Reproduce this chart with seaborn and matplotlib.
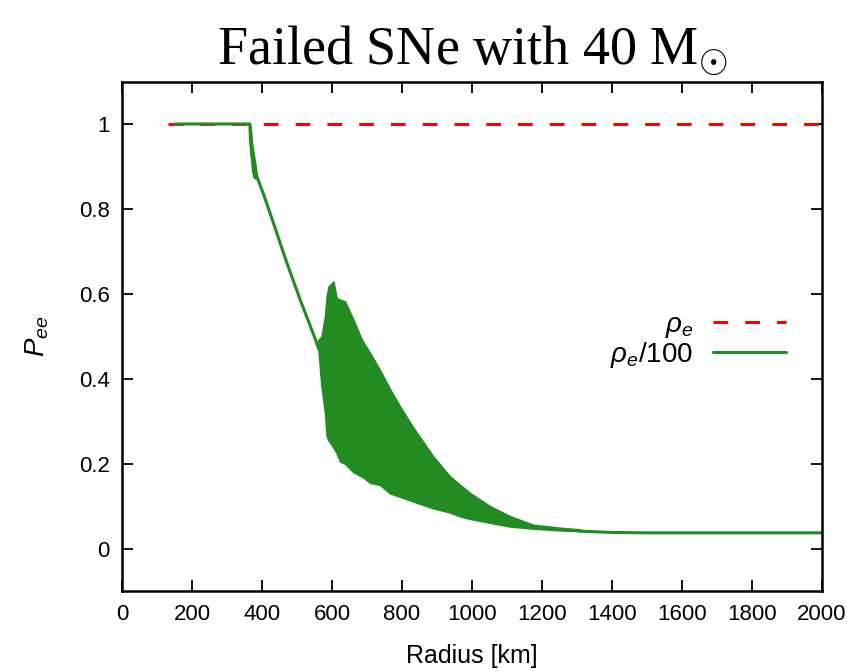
import matplotlib
matplotlib.use("Agg")
import matplotlib.pyplot as plt
import seaborn as sns
import pandas as pd

# Survival probability P_ee versus radius for a failed SN (40 solar masses)
radius_full = [131, 2000]
pee_full = [1.0, 1.0]

# smooth parts of the rho_e/100 curve
radius_trend = [151, 365, 368, 372, 376, 380, 385, 404, 428, 470, 509, 551, 562]
pee_trend = [1.0, 1.0, 0.95, 0.92, 0.90, 0.885, 0.877, 0.835, 0.778, 0.675, 0.586, 0.496, 0.47]
radius_tail = [1309, 1400, 1500, 2000]
pee_tail = [0.041, 0.038, 0.037, 0.037]

# fast oscillation right after the first drop
radius_dip = [365, 368, 372, 376, 380, 385]
dip_hi = [1.0, 0.985, 0.95, 0.93, 0.91, 0.88]
dip_lo = [1.0, 0.93, 0.89, 0.875, 0.872, 0.872]

# envelope of the strongly oscillating region
radius_band = [560, 570, 580, 585, 590, 604, 613, 623, 637, 661, 685, 709, 737,
               766, 794, 832, 889, 937, 966, 994, 1051, 1109, 1175, 1251, 1309]
band_hi = [0.49, 0.50, 0.547, 0.594, 0.617, 0.629, 0.59, 0.586, 0.582, 0.539, 0.492,
           0.46, 0.42, 0.375, 0.335, 0.285, 0.217, 0.17, 0.15, 0.131, 0.10, 0.076,
           0.056, 0.049, 0.045]
band_lo = [0.48, 0.382, 0.32, 0.264, 0.255, 0.238, 0.225, 0.205, 0.20, 0.18, 0.17,
           0.155, 0.15, 0.13, 0.122, 0.111, 0.095, 0.085, 0.076, 0.07, 0.061, 0.052,
           0.047, 0.043, 0.041]

x_ticks = [0, 200, 400, 600, 800, 1000, 1200, 1400, 1600, 1800, 2000]
y_ticks = [0, 0.2, 0.4, 0.6, 0.8, 1.0]
y_ticklabels = ["0", "0.2", "0.4", "0.6", "0.8", "1"]

RED = "#ff0000"
GREEN = "#228b22"

sns.set_style("white")
plt.rcParams["font.family"] = ["Liberation Sans", "DejaVu Sans"]
plt.rcParams["mathtext.fontset"] = "custom"
plt.rcParams["mathtext.it"] = "Liberation Sans:italic"
plt.rcParams["mathtext.rm"] = "Liberation Sans"
plt.rcParams["text.color"] = "black"
plt.rcParams["axes.labelcolor"] = "black"
plt.rcParams["xtick.color"] = "black"
plt.rcParams["ytick.color"] = "black"

fig = plt.figure(figsize=(8.63, 6.71), dpi=100)
ax = fig.add_axes([0.1414, 0.1192, 0.8111, 0.7593])

df_full = pd.DataFrame({"r": radius_full, "p": pee_full})
sns.lineplot(data=df_full, x="r", y="p", ax=ax, color=RED, lw=2.2,
             label=r"$\rho_e$")
ax.lines[-1].set_dashes([4.8, 5.6])

trend = pd.DataFrame({"r": radius_trend, "p": pee_trend})
tail = pd.DataFrame({"r": radius_tail, "p": pee_tail})
sns.lineplot(data=trend, x="r", y="p", ax=ax, color=GREEN, lw=2.2,
             label=r"$\rho_e$/100")
sns.lineplot(data=tail, x="r", y="p", ax=ax, color=GREEN, lw=2.2, legend=False)

ax.fill_between(radius_dip, dip_lo, dip_hi, color=GREEN, lw=1.2, edgecolor=GREEN)
ax.fill_between(radius_band, band_lo, band_hi, color=GREEN, lw=1.2, edgecolor=GREEN)

ax.set_xlim(0, 2000)
ax.set_ylim(-0.1, 1.1)
ax.set_xticks(x_ticks)
ax.set_yticks(y_ticks)
ax.set_yticklabels(y_ticklabels)
ax.tick_params(direction="in", length=8, width=1.3, labelsize=16,
               top=True, right=True, bottom=True, left=True, pad=9)
for s in ax.spines.values():
    s.set_linewidth(1.8)
    s.set_color("black")

ax.set_xlabel("Radius [km]", fontsize=18, labelpad=14)
ax.set_ylabel(r"$P_{ee}$", fontsize=20, labelpad=20)

ax.set_title(r"Failed SNe with 40 M$_{\odot}$", fontsize=39,
             family="Liberation Serif", pad=12)

leg = ax.legend(loc="upper right", bbox_to_anchor=(0.965, 0.57), frameon=False,
                markerfirst=False, fontsize=20, handlelength=2.65,
                labelspacing=0.0, handletextpad=0.7, borderaxespad=0.0)
for t in leg.get_texts():
    t.set_ha("right")

fig.savefig("out.png", dpi=100)
